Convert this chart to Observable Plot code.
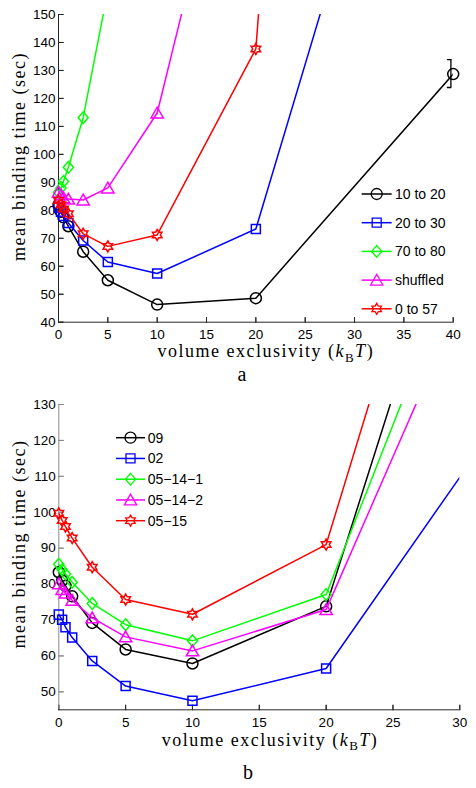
<!DOCTYPE html>
<html><head><meta charset="utf-8">
<script src="https://cdn.jsdelivr.net/npm/d3@7"></script>
<script src="https://cdn.jsdelivr.net/npm/@observablehq/plot@0.6"></script>
<style>
body{margin:0;background:#fff;}
#wrap{width:476px;height:788px;background:#fff;}
#wrap svg{display:block;}
</style></head><body><div id="wrap"></div>
<script>
// ---------- data ----------
const xValues = [0, 0.25, 0.5, 1, 2.5, 5, 10, 20, 40];

// panel a
const aNames = ["10 to 20", "20 to 30", "70 to 80", "shuffled", "0 to 57"];
const a_10to20 = [82, 79.5, 77.5, 74.3, 65.2, 55, 46.3, 48.6, 128.7];
const a_20to30 = [81, 79.5, 78, 75.5, 69.2, 61.5, 57.4, 73.3, 309];
const a_70to80 = [86.5, 88, 90.3, 95.4, 113.1, 158.5];
const a_shuffled = [86.5, 85.5, 84.5, 84, 83.7, 88, 114.8, 258];
const a_0to57 = [83.5, 82, 80.5, 78.8, 71.6, 67.1, 71.2, 137.7, 1060];
const aErrX = [40], aErrLow = [123.9], aErrHigh = [133.9];
const aXTicks = [0, 5, 10, 15, 20, 25, 30, 35, 40];
const aYTicks = [40, 50, 60, 70, 80, 90, 100, 110, 120, 130, 140, 150];

// panel b
const bNames = ["09", "02", "05\u221214\u22121", "05\u221214\u22122", "05\u221215"];
const b_09 = [83.3, 81, 79.5, 76.6, 69.2, 61.8, 57.9, 73.8, 308];
const b_02 = [71.5, 70.1, 68, 65.1, 58.6, 51.6, 47.5, 56.5, 163];
const b_05141 = [85.5, 84, 82.8, 80.5, 74.6, 68.7, 64.2, 77.1, 266];
const b_05142 = [80.1, 78.5, 77.5, 75.5, 70.6, 65.3, 61.4, 72.9, 243];
const b_0515 = [99.7, 97.7, 96, 92.8, 84.7, 75.7, 71.6, 91, 335];
const bXTicks = [0, 5, 10, 15, 20, 25, 30];
const bYTicks = [50, 60, 70, 80, 90, 100, 110, 120, 130];

const colors = ["#000000", "#0000ff", "#00ff00", "#ff00ff", "#ff0000"];

// ---------- marker symbols ----------
const R = s => Math.sqrt(s / Math.PI);
const symCircle = {draw(c, s){const r = R(s); c.moveTo(r, 0); c.arc(0, 0, r, 0, 2 * Math.PI);}};
const symSquare = {draw(c, s){const r = R(s) * 0.82; c.moveTo(-r, -r); c.lineTo(r, -r); c.lineTo(r, r); c.lineTo(-r, r); c.closePath();}};
const symDiamond = {draw(c, s){const r = R(s), w = 0.92 * r, h = 1.07 * r; c.moveTo(0, -h); c.lineTo(w, 0); c.lineTo(0, h); c.lineTo(-w, 0); c.closePath();}};
const symTriangle = {draw(c, s){const r = R(s), w = 1.12 * r; c.moveTo(0, -1.05 * r); c.lineTo(w, 0.9 * r); c.lineTo(-w, 0.9 * r); c.closePath();}};
const symHexagram = {draw(c, s){const r = R(s) * 1.0, ri = r / Math.sqrt(3);
  for (let k = 0; k < 12; ++k) {const a = (-90 + k * 30) * Math.PI / 180, rr = k % 2 ? ri : r;
    const x = rr * Math.cos(a), y = rr * Math.sin(a); k ? c.lineTo(x, y) : c.moveTo(x, y);} c.closePath();}};
const symbols = [symCircle, symSquare, symDiamond, symTriangle, symHexagram];

const sansFont = "'Liberation Sans', Arial, Helvetica, sans-serif";
const serifFont = "'Liberation Serif', 'Times New Roman', serif";

function toPoints(ys){ return ys.map((y, i) => ({x: xValues[i], y})); }

function makePanel(cfg){
  const [x0, x1] = cfg.xDomain, [y0, y1] = cfg.yDomain;
  const axisColor = "#262626";
  const marks = [
    Plot.axisY({ticks: cfg.yTicks, tickSize: 0, tickPadding: 3, label: null, color: "#000", fontSize: 13.5}),
    Plot.axisX({ticks: cfg.xTicks, tickSize: 0, tickPadding: 7.6, label: null, color: "#000", fontSize: 13.5}),
    // inward tick marks
    Plot.vector(cfg.yTicks, {x: () => x0, y: d => d, length: 5, rotate: 90, anchor: "start", shape: "spike", r: 0, stroke: cfg.leftAxisColor, strokeWidth: 1}),
    Plot.vector(cfg.xTicks, {x: d => d, y: () => y0, length: 5, rotate: 0, anchor: "start", shape: "spike", r: 0, stroke: axisColor, strokeWidth: 1}),
    Plot.ruleX([x0], {stroke: cfg.leftAxisColor, strokeWidth: 1}),
    Plot.ruleY([y0], {stroke: axisColor, strokeWidth: 1})
  ];
  cfg.series.forEach((ys, i) => {
    const pts = toPoints(ys);
    marks.push(Plot.line(pts, {x: "x", y: "y", stroke: colors[i], strokeWidth: 1.5, clip: true, strokeLinejoin: "miter"}));
    marks.push(Plot.dot(pts.filter(d => d.y <= y1 && d.x <= x1), {x: "x", y: "y", symbol: symbols[i], r: 5.5, stroke: colors[i], strokeWidth: 1.5, fill: "none"}));
  });
  if (cfg.err) {
    const e = cfg.err.x.map((x, i) => ({x, lo: cfg.err.lo[i], hi: cfg.err.hi[i]}));
    marks.push(Plot.ruleX(e, {x: "x", y1: "lo", y2: "hi", stroke: "#000", strokeWidth: 1.3, dx: -2.3}));
    marks.push(Plot.vector(e, {x: "x", y: "lo", length: 3.5, rotate: -90, anchor: "start", stroke: "#000", strokeWidth: 1.3, dx: -2.3, shape: "spike", r: 0}));
    marks.push(Plot.vector(e, {x: "x", y: "hi", length: 3.5, rotate: -90, anchor: "start", stroke: "#000", strokeWidth: 1.3, dx: -2.3, shape: "spike", r: 0}));
  }
  const svg = Plot.plot({
    width: 476, height: cfg.height,
    marginTop: cfg.mt, marginBottom: cfg.mb, marginLeft: cfg.ml, marginRight: cfg.mr,
    x: {domain: cfg.xDomain, label: null},
    y: {domain: cfg.yDomain, label: null},
    style: {fontFamily: sansFont, fontSize: "13.5px", color: "#000", background: "#fff", overflow: "visible"},
    marks
  });
  const g = d3.select(svg).append("g");
  // legend
  const L = cfg.legend;
  cfg.names.forEach((name, i) => {
    const y = L.y0 + i * L.dy;
    g.append("line").attr("x1", L.x1).attr("x2", L.x2).attr("y1", y).attr("y2", y)
      .attr("stroke", colors[i]).attr("stroke-width", 1.5);
    g.append("path").attr("d", d3.symbol(symbols[i], Math.PI * 5.5 * 5.5)())
      .attr("transform", `translate(${(L.x1 + L.x2) / 2},${y})`)
      .attr("fill", "none").attr("stroke", colors[i]).attr("stroke-width", 1.3);
    g.append("text").attr("x", L.tx).attr("y", y).attr("dy", "0.35em").attr("text-anchor", "start")
      .style("font-family", sansFont).style("font-size", "14px").attr("fill", "#000").text(name);
  });
  // x label
  const t = g.append("text").attr("x", cfg.xl[0]).attr("y", cfg.xl[1]).attr("text-anchor", "middle")
    .style("font-family", serifFont).style("font-size", "18px").style("letter-spacing", "1.5px").attr("fill", "#000");
  t.append("tspan").text("volume exclusivity (");
  t.append("tspan").attr("font-style", "italic").text("k");
  t.append("tspan").attr("dy", 4.5).style("font-size", "13px").text("B");
  t.append("tspan").attr("dy", -4.5).attr("font-style", "italic").text("T");
  t.append("tspan").text(")");
  // y label
  g.append("text").attr("transform", `translate(${cfg.yl[0]},${cfg.yl[1]}) rotate(-90)`).attr("text-anchor", "middle")
    .style("font-family", serifFont).style("font-size", "18px").style("letter-spacing", "1.5px").attr("fill", "#000")
    .text("mean binding time (sec)");
  // caption
  g.append("text").attr("x", cfg.cap[0]).attr("y", cfg.cap[1]).attr("text-anchor", "middle")
    .style("font-family", serifFont).style("font-size", "20px").attr("fill", "#000").text(cfg.capText);
  return svg;
}

const wrap = document.getElementById("wrap");
wrap.appendChild(makePanel({
  height: 394, mt: 14, mb: 72.3, ml: 58, mr: 23.3,
  xDomain: [0, 40], yDomain: [40, 150], xTicks: aXTicks, yTicks: aYTicks,
  leftAxisColor: "#262626",
  series: [a_10to20, a_20to30, a_70to80, a_shuffled, a_0to57], names: aNames,
  err: {x: aErrX, lo: aErrLow, hi: aErrHigh},
  legend: {x1: 361.7, x2: 391.7, tx: 395, y0: 194, dy: 28.7},
  xl: [265.8, 357], yl: [25, 156.5], cap: [242, 381], capText: "a"
}));
wrap.appendChild(makePanel({
  height: 394, mt: 10, mb: 78.7, ml: 58.3, mr: 16.7,
  xDomain: [0, 30], yDomain: [45, 130], xTicks: bXTicks, yTicks: bYTicks,
  leftAxisColor: "#8a8a8a",
  series: [b_09, b_02, b_05141, b_05142, b_0515], names: bNames,
  legend: {x1: 116, x2: 145, tx: 147.7, y0: 43.7, dy: 20.75},
  xl: [270, 351.5], yl: [25, 150], cap: [248, 384.8], capText: "b"
}));
</script></body></html>
